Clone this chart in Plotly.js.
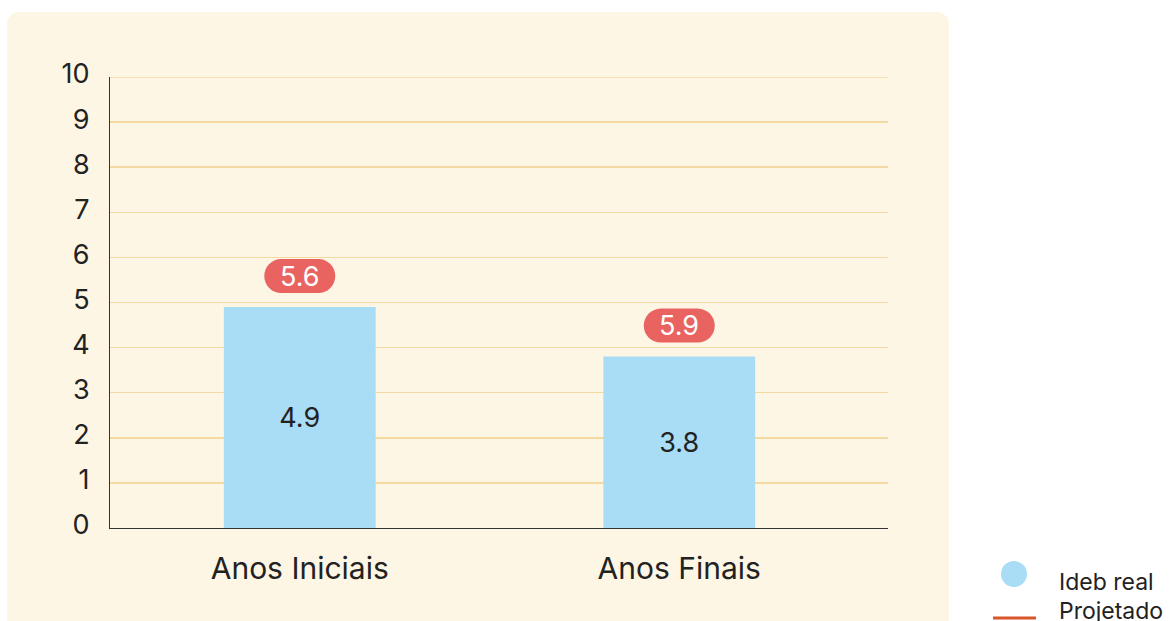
<!DOCTYPE html>
<html>
<head>
<meta charset="utf-8">
<script src="https://cdn.plot.ly/plotly-3.0.1.min.js"></script>
<style>
  html, body { margin: 0; padding: 0; background: #ffffff; }
  #panel { position: absolute; left: 7px; top: 12px; width: 942px; height: 640px;
           background: #fdf6e4; border-radius: 12px; }
  #chart { position: absolute; left: 0; top: 0; width: 1170px; height: 621px; }
</style>
</head>
<body>
<div id="panel"></div>
<div id="chart"></div>
<script>
// ---- data ----
var categories = ['Anos Iniciais', 'Anos Finais'];
var idebReal = [4.9, 3.8];
var projetado = [5.6, 5.9];
var yTicks = [0, 1, 2, 3, 4, 5, 6, 7, 8, 9, 10];
var legendLabels = ['Ideb real', 'Projetado'];

// ---- styling ----
var FONT = 'Inter, "Open Sans", sans-serif';
var BAR_COLOR = '#a9dcf5';
var PILL_COLOR = '#e96461';
var LINE_COLOR = '#d9552b';
var GRID_COLOR = '#f5d9a2';
var TEXT_COLOR = '#222222';

var W = 1170, H = 621;
var M = {l: 110, r: 282, t: 77, b: 93};
var plotW = W - M.l - M.r, plotH = H - M.t - M.b;
function px2paperX(px) { return (px - M.l) / plotW; }
function px2paperY(py) { return (H - M.b - py) / plotH; }

// pill path in pixel units relative to anchor (y up)
function pillPath(cy, hw, hh) {
  var r = hh, pts = [], i, a, n = 16;
  for (i = 0; i <= n; i++) { a = -Math.PI / 2 + Math.PI * i / n;
    pts.push([(hw - r) + r * Math.cos(a), cy + r * Math.sin(a)]); }
  for (i = 0; i <= n; i++) { a = Math.PI / 2 + Math.PI * i / n;
    pts.push([-(hw - r) + r * Math.cos(a), cy + r * Math.sin(a)]); }
  return 'M' + pts.map(function (p) { return p[0].toFixed(2) + ',' + p[1].toFixed(2); }).join(' L') + ' Z';
}

var trace = {
  type: 'bar',
  x: categories,
  y: idebReal,
  width: 0.4,
  marker: {color: BAR_COLOR},
  text: idebReal.map(function (v) { return v.toFixed(1); }),
  textposition: 'inside',
  insidetextanchor: 'middle',
  textfont: {family: FONT, size: 27, color: TEXT_COLOR},
  showlegend: false,
  hoverinfo: 'skip'
};

var shapes = [];
var annotations = [];

// top gridline (Plotly omits gridlines at the very edge of the range)
var yMax = yTicks[yTicks.length - 1];
shapes.push({
  type: 'line', xref: 'paper', yref: 'y',
  x0: 0, x1: 1, y0: yMax, y1: yMax,
  line: {color: GRID_COLOR, width: 1.5}, layer: 'below'
});

var PILL_OFFSET = 31;
projetado.forEach(function (v, i) {
  shapes.push({
    type: 'path', xref: 'x', yref: 'y',
    xsizemode: 'pixel', ysizemode: 'pixel',
    xanchor: i, yanchor: idebReal[i],
    path: pillPath(PILL_OFFSET, 35.5, 17),
    fillcolor: PILL_COLOR, line: {width: 0}, layer: 'above'
  });
  annotations.push({
    x: categories[i], y: idebReal[i], xref: 'x', yref: 'y',
    yshift: PILL_OFFSET, showarrow: false,
    text: v.toFixed(1),
    font: {family: FONT, size: 27, color: '#ffffff'},
    xanchor: 'center', yanchor: 'middle'
  });
});

// manual legend
var legCircle = {cx: 1014, cy: 574, r: 13};
shapes.push({
  type: 'circle', xref: 'paper', yref: 'paper',
  xsizemode: 'pixel', ysizemode: 'pixel',
  xanchor: px2paperX(legCircle.cx), yanchor: px2paperY(legCircle.cy),
  x0: -legCircle.r, x1: legCircle.r, y0: -legCircle.r, y1: legCircle.r,
  fillcolor: BAR_COLOR, line: {width: 0}
});
shapes.push({
  type: 'line', xref: 'paper', yref: 'paper',
  x0: px2paperX(993), x1: px2paperX(1036),
  y0: px2paperY(618), y1: px2paperY(618),
  line: {color: LINE_COLOR, width: 3}
});
var legTextY = [582, 611];
legendLabels.forEach(function (t, i) {
  annotations.push({
    xref: 'paper', yref: 'paper', x: px2paperX(1057), y: px2paperY(legTextY[i]),
    text: t, showarrow: false, xanchor: 'left', yanchor: 'middle',
    font: {family: FONT, size: 23, color: TEXT_COLOR}
  });
});

var layout = {
  width: W, height: H,
  margin: M,
  paper_bgcolor: 'rgba(0,0,0,0)',
  plot_bgcolor: 'rgba(0,0,0,0)',
  font: {family: FONT, color: TEXT_COLOR},
  showlegend: false,
  xaxis: {
    type: 'category',
    categoryarray: categories,
    range: [-0.5, 1.55],
    showline: true, linecolor: '#333333', linewidth: 1,
    showgrid: false, zeroline: false,
    ticks: '', ticklabelstandoff: 14,
    tickfont: {family: FONT, size: 30, color: TEXT_COLOR}
  },
  yaxis: {
    range: [0, 10],
    tickvals: yTicks,
    ticktext: yTicks.map(String),
    showline: true, linecolor: '#333333', linewidth: 1,
    showgrid: true, gridcolor: GRID_COLOR, gridwidth: 1.5,
    zeroline: false,
    ticks: '', ticklabelstandoff: 14, ticklabelshift: -3,
    tickfont: {family: FONT, size: 27, color: TEXT_COLOR}
  },
  shapes: shapes,
  annotations: annotations
};

Plotly.newPlot('chart', [trace], layout, {staticPlot: true, displayModeBar: false});
</script>
</body>
</html>
